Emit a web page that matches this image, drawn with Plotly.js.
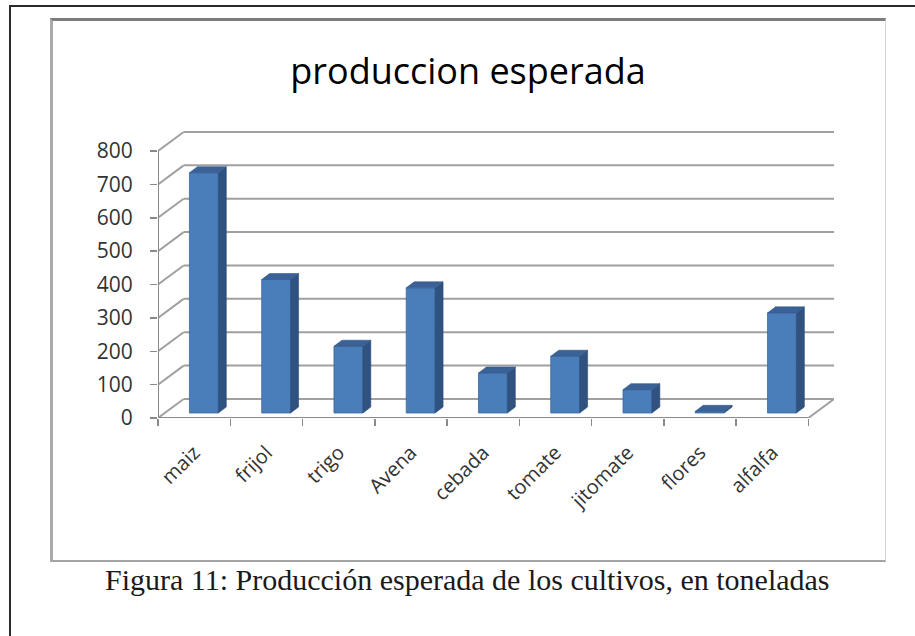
<!DOCTYPE html>
<html>
<head>
<meta charset="utf-8">
<script src="https://cdn.plot.ly/plotly-3.0.1.min.js"></script>
<style>
  html, body { margin: 0; padding: 0; background: #ffffff; }
  #outer { position: absolute; left: 9px; top: 5px; width: 930px; height: 660px;
           border-left: 2px solid #2a2a2a; border-top: 2px solid #2a2a2a; }
  #box { position: absolute; left: 50px; top: 18px; width: 832px; height: 539px;
         border-top: 3px solid #7d7d7d; border-left: 3px solid #a9a9a9;
         border-right: 1px solid #d4d4d4; border-bottom: 2px solid #a4a4a4; box-sizing: content-box; }
  #chart { position: absolute; left: 0; top: 0; width: 915px; height: 636px; }
</style>
</head>
<body>
<div id="outer"></div>
<div id="box"></div>
<div id="chart"></div>
<script>
// ---- data ----
const categories = ['maiz', 'frijol', 'trigo', 'Avena', 'cebada', 'tomate', 'jitomate', 'flores', 'alfalfa'];
const production = [720, 400, 200, 375, 120, 170, 70, 5, 300];
const yTicks = [0, 100, 200, 300, 400, 500, 600, 700, 800];
const chartTitle = 'produccion esperada';
const caption = 'Figura 11: Producción esperada de los cultivos, en toneladas';

// ---- pseudo-3D geometry (in axis units) ----
const W = 915, H = 636;
const M = { l: 158, r: 81, t: 131, b: 218 };
const wallDX = 0.355, wallDY = 57;      // depth of floor / back wall
const barOffset = 0.135, barWidth = 0.4; // bar position inside category
const barBase = 15;                      // bars stand a little behind the front edge
const sideDX = 0.11, sideDY = 18;        // depth of each bar

const idx = categories.map((_, i) => i);
const xs = idx.map(i => i + barOffset);
const xMin = -0.5, xMax = categories.length - 0.5;
const yTop = 860;

// side and top faces
const sideX = [], sideY = [], topX = [], topY = [];
production.forEach((v, i) => {
  const xl = xs[i] - barWidth / 2, xr = xs[i] + barWidth / 2;
  const y0 = barBase, y1 = barBase + v;
  sideX.push(xr, xr + sideDX, xr + sideDX, xr, xr, null);
  sideY.push(y0, y0 + sideDY, y1 + sideDY, y1, y0, null);
  topX.push(xl, xr, xr + sideDX, xl + sideDX, xl, null);
  topY.push(y1, y1, y1 + sideDY, y1 + sideDY, y1, null);
});

const traces = [
  { type: 'bar', x: xs, y: production, base: barBase, width: barWidth,
    marker: { color: '#4a7ebb', line: { color: '#3b68a0', width: 0.8 } },
    hoverinfo: 'skip', showlegend: false },
  { type: 'scatter', mode: 'lines', x: sideX, y: sideY, fill: 'toself',
    fillcolor: '#2f5280', line: { color: '#2c4c77', width: 0.6 }, hoverinfo: 'skip', showlegend: false },
  { type: 'scatter', mode: 'lines', x: topX, y: topY, fill: 'toself',
    fillcolor: '#3a6296', line: { color: '#35598a', width: 0.6 }, hoverinfo: 'skip', showlegend: false }
];

// back wall gridlines + floor
const gridColor = '#a0a0a0';
const axisColor = '#8a8a8a';
const shapes = [];
yTicks.forEach(v => {
  shapes.push({ type: 'line', xref: 'x', yref: 'y', layer: 'below',
    x0: xMin, y0: v, x1: xMin + wallDX, y1: v + wallDY, line: { color: gridColor, width: 2 } });
  shapes.push({ type: 'line', xref: 'x', yref: 'y', layer: 'below',
    x0: xMin + wallDX, y0: v + wallDY, x1: xMax + wallDX, y1: v + wallDY, line: { color: gridColor, width: 2 } });
});
// front floor edge, right floor edge, front vertical axis
shapes.push({ type: 'line', xref: 'x', yref: 'y', layer: 'below',
  x0: xMin, y0: 0, x1: xMax, y1: 0, line: { color: axisColor, width: 2 } });
shapes.push({ type: 'line', xref: 'x', yref: 'y', layer: 'below',
  x0: xMax, y0: 0, x1: xMax + wallDX, y1: wallDY, line: { color: gridColor, width: 2 } });
shapes.push({ type: 'line', xref: 'x', yref: 'y', layer: 'below',
  x0: xMin, y0: 0, x1: xMin, y1: yTicks[yTicks.length - 1], line: { color: axisColor, width: 2 } });

const boundaries = categories.map((_, i) => i - 0.5).concat([xMax]);

const plotW = W - M.l - M.r, plotH = H - M.t - M.b;
const capX = 467.5, capBase = 589;

const layout = {
  width: W, height: H,
  margin: { l: M.l, r: M.r, t: M.t, b: M.b, pad: 0 },
  paper_bgcolor: 'rgba(0,0,0,0)', plot_bgcolor: 'rgba(0,0,0,0)',
  showlegend: false, hovermode: false,
  title: { text: chartTitle, xref: 'container', yref: 'container',
    x: 468 / W, xanchor: 'center', y: 1 - 71 / H, yanchor: 'middle',
    font: { family: 'Open Sans, sans-serif', size: 36, color: '#000000' } },
  xaxis: {
    range: [xMin, xMax + wallDX], tickmode: 'array', tickvals: idx, ticktext: categories,
    tickangle: -45, ticks: '', showgrid: false, zeroline: false, showline: false,
    tickfont: { family: 'Open Sans, sans-serif', size: 20, color: '#333333' },
    ticklabelstandoff: 18,
    minor: { tickmode: 'array', tickvals: boundaries, ticks: 'outside', ticklen: 7,
             tickcolor: axisColor, tickwidth: 1.5, showgrid: false },
    fixedrange: true
  },
  yaxis: {
    range: [0, yTop], tickmode: 'array', tickvals: yTicks, ticktext: yTicks.map(String),
    ticks: 'outside', ticklen: 7, tickcolor: axisColor, tickwidth: 1.5,
    showgrid: false, zeroline: false, showline: false,
    tickfont: { family: 'Open Sans, sans-serif', size: 21, color: '#333333' },
    ticklabelstandoff: 13, fixedrange: true
  },
  shapes: shapes,
  annotations: [{
    text: caption, showarrow: false, xref: 'paper', yref: 'paper',
    x: (capX - M.l) / plotW, xanchor: 'center',
    y: (H - M.b - (capBase - 10)) / plotH, yanchor: 'middle',
    font: { family: 'Liberation Serif, Times New Roman, serif', size: 30, color: '#1a1a1a' }
  }]
};

Plotly.newPlot('chart', traces, layout, { displayModeBar: false, staticPlot: true });
</script>
</body>
</html>
